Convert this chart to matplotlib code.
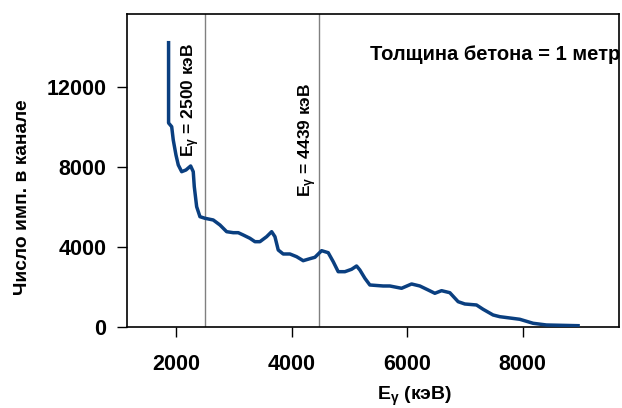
import matplotlib
matplotlib.use("Agg")
import matplotlib.pyplot as plt

plt.rcParams['font.family'] = ['Liberation Sans', 'DejaVu Sans']
plt.rcParams['font.weight'] = 'bold'
plt.rcParams['mathtext.fontset'] = 'custom'
plt.rcParams['mathtext.rm'] = 'Liberation Sans:bold'
plt.rcParams['mathtext.it'] = 'Liberation Sans:bold'
plt.rcParams['mathtext.bf'] = 'Liberation Sans:bold'

# Spectrum data (energy keV, counts per channel)
energy = [1872, 1872, 1926, 1953, 2000, 2040, 2099, 2173, 2254, 2299, 2317, 2358,
          2415, 2502, 2645, 2761, 2877, 2991, 3078, 3164, 3280, 3367, 3453, 3569,
          3656, 3713, 3770, 3856, 3972, 4088, 4202, 4318, 4405, 4521, 4635, 4722,
          4808, 4924, 5040, 5126, 5183, 5270, 5356, 5586, 5702, 5905, 6078, 6221,
          6365, 6481, 6597, 6740, 6884, 7000, 7202, 7316, 7489, 7605, 7951, 8182,
          8413, 8960]
counts = [14200, 10185, 10000, 9335, 8585, 8085, 7750, 7835, 8035, 7750, 7000, 6000,
          5500, 5420, 5335, 5085, 4750, 4700, 4700, 4585, 4420, 4250, 4250, 4500,
          4750, 4500, 3835, 3635, 3635, 3500, 3300, 3400, 3470, 3800, 3700, 3250,
          2750, 2750, 2870, 3035, 2835, 2420, 2085, 2035, 2035, 1920, 2135, 2035,
          1835, 1670, 1800, 1700, 1250, 1135, 1085, 870, 585, 500, 370, 170,
          85, 50]

marker_lines = [2500, 4470]
marker_labels = [r'E$_\gamma$ = 2500 кэВ', r'E$_\gamma$ = 4439 кэВ']
x_ticks = [2000, 4000, 6000, 8000]
y_ticks = [0, 4000, 8000, 12000]

fig = plt.figure(figsize=(6.22, 4.08), dpi=100)
ax = fig.add_axes([0.2047, 0.1993, 0.7897, 0.7657])

for xv in marker_lines:
    ax.axvline(xv, color='#808080', lw=1.0, zorder=1)

ax.plot(energy, counts, color='#0a3f80', lw=2.5, zorder=3, solid_joinstyle='round')

ax.set_xlim(1158, 9660)
ax.set_ylim(0, 15620)
ax.set_xticks(x_ticks)
ax.set_yticks(y_ticks)
ax.tick_params(axis='both', labelsize=15.5, colors='black', width=1.0, length=7,
               direction='out')
ax.tick_params(axis='x', pad=13)
ax.tick_params(axis='y', pad=8)
for t in ax.get_xticklabels() + ax.get_yticklabels():
    t.set_fontweight('bold')
for s in ax.spines.values():
    s.set_linewidth(1.2)

ax.set_ylabel('Число имп. в канале', fontsize=13.8, fontweight='bold',
              va='center')
ax.yaxis.set_label_coords(-0.214, 0.415)
ax.set_xlabel(r'E$_\gamma$ (кэВ)', fontsize=14, fontweight='bold')
ax.xaxis.set_label_coords(0.585, -0.185)

# rotated marker labels (pixel coords converted to figure fractions)
fig.text(191 / 622, 1 - 100 / 408, marker_labels[0], rotation=90, fontsize=12.5,
         fontweight='bold', ha='center', va='center')
fig.text(307.5 / 622, 1 - 140 / 408, marker_labels[1], rotation=90, fontsize=12.5,
         fontweight='bold', ha='center', va='center')

fig.text(370 / 622, 1 - 55 / 408, 'Толщина бетона = 1 метр', fontsize=14.5,
         fontweight='bold', ha='left', va='center')

fig.savefig('out.png', dpi=100)
